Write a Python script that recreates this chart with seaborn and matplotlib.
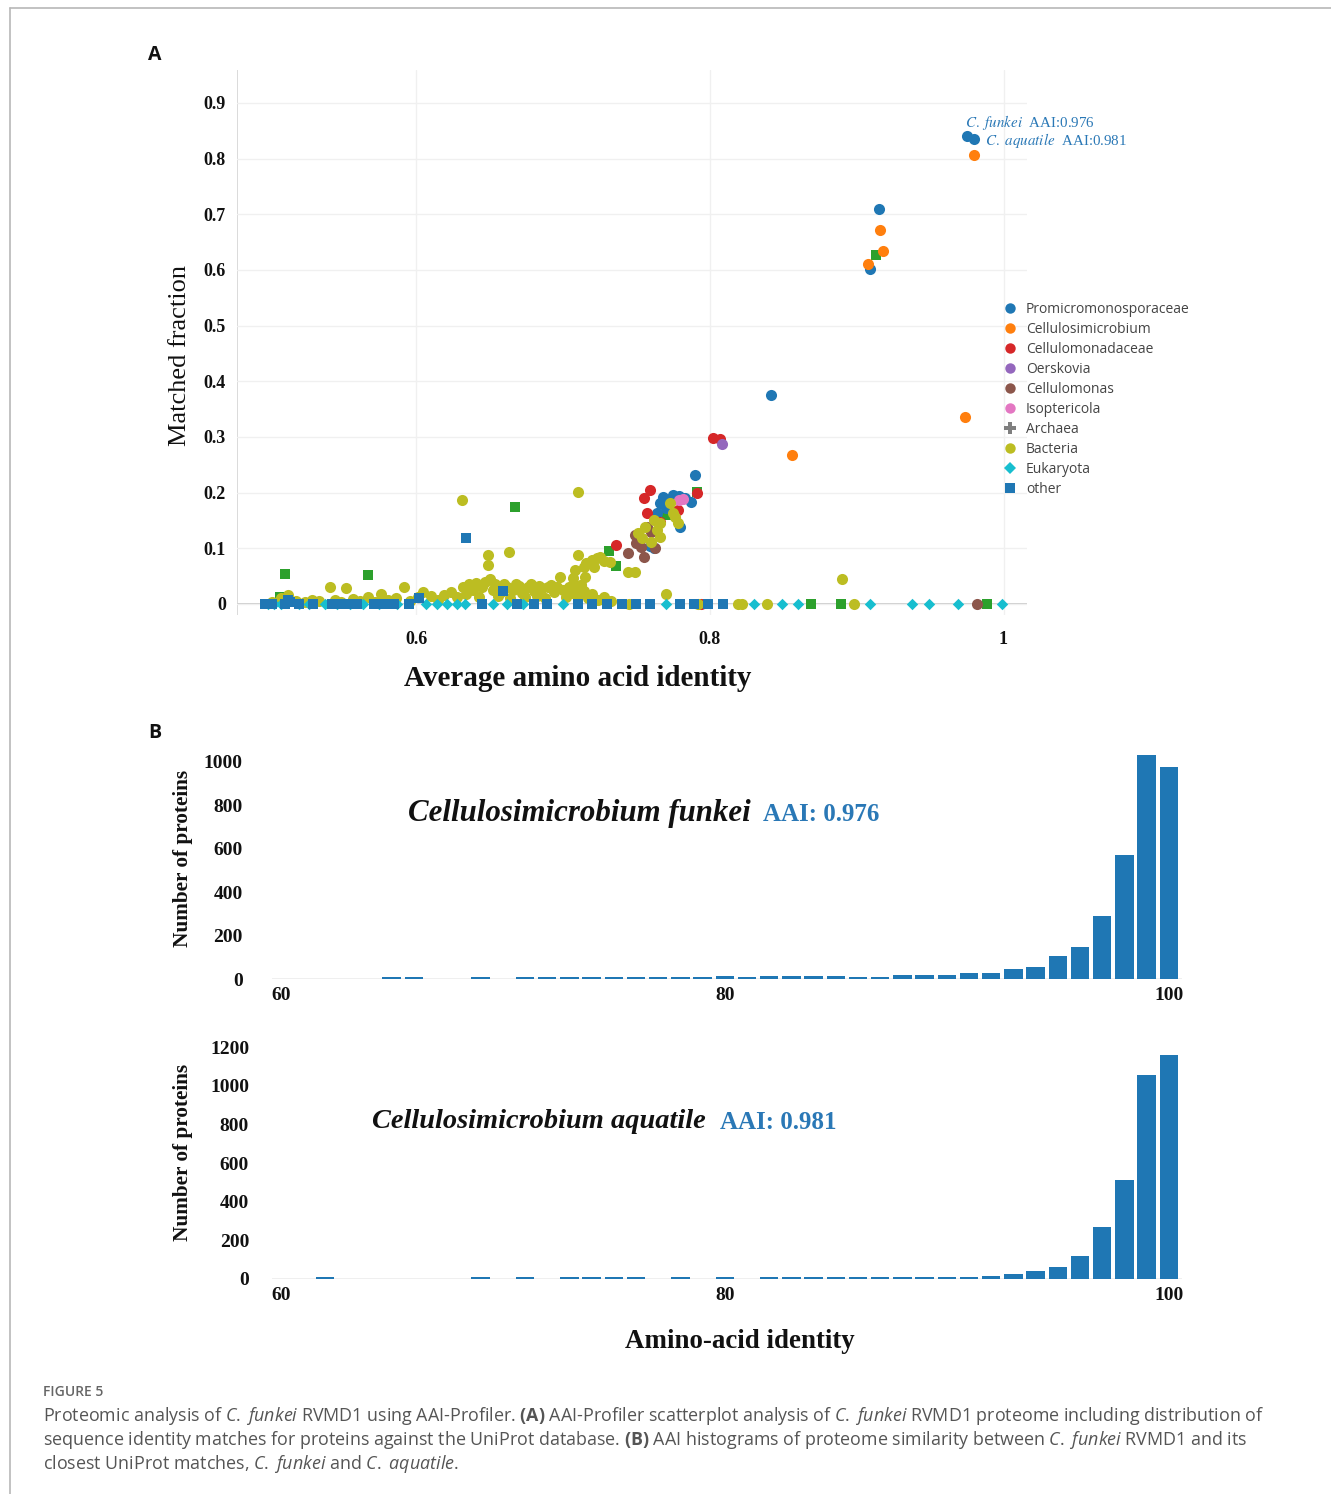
import matplotlib
matplotlib.use("Agg")
import matplotlib.pyplot as plt
from matplotlib.lines import Line2D
import seaborn as sns
import pandas as pd

# ---------------- data: panel A (AAI scatter) ----------------
promi_x = [0.975, 0.980, 0.915, 0.909, 0.842, 0.790, 0.768, 0.766, 0.775, 0.779, 0.787, 0.780, 0.764, 0.762, 0.759, 0.770, 0.783]
promi_y = [0.840, 0.836, 0.710, 0.602, 0.375, 0.232, 0.192, 0.181, 0.196, 0.194, 0.183, 0.138, 0.163, 0.100, 0.104, 0.172, 0.190]

cellsim_x = [0.980, 0.916, 0.918, 0.908, 0.974, 0.856]
cellsim_y = [0.807, 0.671, 0.634, 0.611, 0.336, 0.268]

cellmd_x = [0.802, 0.807, 0.759, 0.755, 0.791, 0.757, 0.778, 0.736, 0.766, 0.794]
cellmd_y = [0.298, 0.296, 0.205, 0.190, 0.199, 0.164, 0.169, 0.106, 0.148, 0.000]

oersk_x = [0.808]
oersk_y = [0.287]

cellmon_x = [0.757, 0.749, 0.753, 0.744, 0.755, 0.763, 0.760, 0.750, 0.982]
cellmon_y = [0.138, 0.124, 0.102, 0.092, 0.084, 0.100, 0.130, 0.110, 0.000]

isopt_x = [0.779, 0.782]
isopt_y = [0.187, 0.188]

green_x = [0.913, 0.791, 0.771, 0.731, 0.736, 0.667, 0.567, 0.511, 0.507, 0.889, 0.869, 0.989]
green_y = [0.627, 0.201, 0.160, 0.095, 0.068, 0.174, 0.052, 0.054, 0.013, 0.000, 0.000, 0.000]

bact_x = [0.502, 0.508, 0.513, 0.518, 0.524, 0.529, 0.534, 0.541, 0.545, 0.549, 0.552, 0.557, 0.562, 0.567,
          0.572, 0.576, 0.581, 0.586, 0.592, 0.596, 0.601, 0.605, 0.610, 0.615, 0.619, 0.624, 0.628,
          0.632, 0.634, 0.636, 0.639, 0.641, 0.643, 0.645, 0.647, 0.650, 0.652, 0.654, 0.656, 0.658, 0.660,
          0.662, 0.664, 0.666, 0.668, 0.670, 0.672, 0.674, 0.676, 0.678, 0.680, 0.682, 0.684, 0.686, 0.688,
          0.690, 0.692, 0.694, 0.696, 0.698, 0.700, 0.702, 0.704, 0.706, 0.708, 0.710, 0.712, 0.714, 0.717,
          0.720, 0.724, 0.728, 0.733,
          0.703, 0.707, 0.708, 0.712, 0.714, 0.715, 0.716, 0.720, 0.721, 0.723, 0.725, 0.728, 0.732, 0.710,
          0.744, 0.749,
          0.751, 0.754, 0.756, 0.762, 0.764, 0.766, 0.766, 0.773, 0.775, 0.776, 0.778, 0.760,
          0.631, 0.649, 0.649, 0.663, 0.710, 0.890, 0.770,
          0.745, 0.792, 0.819, 0.839, 0.898, 0.822]
bact_y = [0.004, 0.010, 0.016, 0.006, 0.003, 0.008, 0.005, 0.030, 0.007, 0.004, 0.029, 0.009, 0.005, 0.012,
          0.004, 0.018, 0.007, 0.010, 0.030, 0.006, 0.012, 0.022, 0.014, 0.008, 0.017, 0.022, 0.012,
          0.030, 0.018, 0.036, 0.026, 0.038, 0.012, 0.030, 0.040, 0.045, 0.026, 0.035, 0.014, 0.022, 0.036,
          0.030, 0.010, 0.026, 0.036, 0.032, 0.020, 0.012, 0.030, 0.036, 0.024, 0.014, 0.032, 0.028, 0.010,
          0.030, 0.034, 0.022, 0.030, 0.049, 0.026, 0.012, 0.030, 0.020, 0.032, 0.014, 0.034, 0.024, 0.010,
          0.018, 0.008, 0.012, 0.005,
          0.025, 0.047, 0.061, 0.034, 0.066, 0.049, 0.074, 0.079, 0.066, 0.083, 0.084, 0.078, 0.075, 0.088,
          0.057, 0.057,
          0.128, 0.119, 0.138, 0.151, 0.133, 0.146, 0.120, 0.181, 0.163, 0.156, 0.146, 0.112,
          0.187, 0.088, 0.070, 0.094, 0.201, 0.045, 0.018,
          0.000, 0.000, 0.000, 0.000, 0.000, 0.000]

euk_x = [0.499, 0.503, 0.508, 0.520, 0.527, 0.538, 0.546, 0.555, 0.564, 0.575, 0.587, 0.607, 0.614, 0.621,
         0.628, 0.633, 0.652, 0.662, 0.673, 0.700, 0.770, 0.830, 0.849, 0.860, 0.909, 0.938, 0.949, 0.969, 0.999]
euk_y = [0.0] * len(euk_x)

other_x = [0.497, 0.502, 0.511, 0.514, 0.520, 0.530, 0.543, 0.548, 0.555, 0.560, 0.571, 0.578, 0.585, 0.595,
           0.602, 0.645, 0.669, 0.680, 0.689, 0.710, 0.720, 0.730, 0.740, 0.750, 0.759, 0.780, 0.789, 0.799,
           0.809, 0.634, 0.659, 0.513]
other_y = [0.000, 0.000, 0.000, 0.003, 0.000, 0.000, 0.000, 0.000, 0.000, 0.000, 0.000, 0.000, 0.000, 0.000,
           0.011, 0.000, 0.000, 0.000, 0.000, 0.000, 0.000, 0.000, 0.000, 0.000, 0.000, 0.000, 0.000, 0.000,
           0.000, 0.119, 0.023, 0.008]

legend_labels = ["Promicromonosporaceae", "Cellulosimicrobium", "Cellulomonadaceae", "Oerskovia",
                 "Cellulomonas", "Isoptericola", "Archaea", "Bacteria", "Eukaryota", "other"]

# ---------------- data: panel B (histograms) ----------------
funkei_bins = [65, 66, 69, 71, 72, 73, 74, 75, 76, 77, 78, 79, 80, 81, 82, 83, 84, 85, 86, 87,
               88, 89, 90, 91, 92, 93, 94, 95, 96, 97, 98, 99, 100]
funkei_counts = [10, 10, 10, 10, 10, 10, 10, 10, 10, 10, 10, 10, 13, 10, 12, 12, 12, 12, 11, 11,
                 18, 18, 18, 26, 29, 46, 57, 106, 149, 290, 570, 1030, 975]

aquatile_bins = [62, 69, 71, 73, 74, 75, 76, 78, 80, 82, 83, 84, 85, 86, 87, 88, 89, 90, 91,
                 92, 93, 94, 95, 96, 97, 98, 99, 100]
aquatile_counts = [10, 10, 10, 10, 10, 10, 10, 10, 10, 10, 10, 10, 10, 10, 10, 10, 10, 10, 10,
                   16, 23, 40, 59, 118, 270, 512, 1056, 1160]

# ---------------- style ----------------
sns.set_theme(style="white")
plt.rcParams["font.family"] = ["Liberation Serif", "DejaVu Serif"]
plt.rcParams["mathtext.fontset"] = "custom"
plt.rcParams["mathtext.rm"] = "Open Sans"
plt.rcParams["mathtext.it"] = "Open Sans:italic"
plt.rcParams["mathtext.bf"] = "Open Sans:bold"

W, H = 1331, 1494
fig = plt.figure(figsize=(W / 100, H / 100), dpi=100)
fig.patch.set_facecolor("white")


def fx(px):
    return px / W


def fy(py):
    return 1 - py / H


# frame lines
fig.add_artist(Line2D([fx(10), 1.0], [fy(8), fy(8)], color="#b8b8b8", lw=1.2))
fig.add_artist(Line2D([fx(10), fx(10)], [fy(8), 0.0], color="#b8b8b8", lw=1.2))

# ---------------- panel A ----------------
axA = fig.add_axes([fx(237), fy(615), fx(1027) - fx(237), fy(70) - fy(615)])
axA.set_xlim(0.478, 1.016)
axA.set_ylim(-0.0198, 0.9592)
for s in axA.spines.values():
    s.set_visible(False)
axA.set_yticks([0, 0.1, 0.2, 0.3, 0.4, 0.5, 0.6, 0.7, 0.8, 0.9])
axA.set_yticklabels(["0", "0.1", "0.2", "0.3", "0.4", "0.5", "0.6", "0.7", "0.8", "0.9"])
axA.set_xticks([0.6, 0.8, 1.0])
axA.set_xticklabels(["0.6", "0.8", "1"])
axA.grid(True, color="#f0f0f0", lw=1)
axA.set_axisbelow(True)
axA.tick_params(axis="both", length=0, labelsize=13, colors="#111111")
axA.tick_params(axis="y", pad=8)
axA.tick_params(axis="x", pad=11.5)
for lab in axA.get_xticklabels() + axA.get_yticklabels():
    lab.set_fontweight("bold")
axA.axhline(0, color="#c4c4c4", lw=1.2, zorder=0.5)
axA.axvline(0.478, color="#d4d4d4", lw=1.2, zorder=0.5)

groups = [
    ("green", green_x, green_y, "#2ca02c", "s", 56),
    ("Promicromonosporaceae", promi_x, promi_y, "#1f77b4", "o", 64),
    ("Cellulosimicrobium", cellsim_x, cellsim_y, "#ff7f0e", "o", 64),
    ("Cellulomonadaceae", cellmd_x, cellmd_y, "#d62728", "o", 64),
    ("Oerskovia", oersk_x, oersk_y, "#9467bd", "o", 64),
    ("Cellulomonas", cellmon_x, cellmon_y, "#8c564b", "o", 64),
    ("Isoptericola", isopt_x, isopt_y, "#e377c2", "o", 64),
    ("Bacteria", bact_x, bact_y, "#bcbd22", "o", 64),
    ("Eukaryota", euk_x, euk_y, "#17becf", "D", 34),
    ("other", other_x, other_y, "#1f77b4", "s", 54),
]
for name, gx, gy, col, mk, sz in groups:
    df = pd.DataFrame({"aai": gx, "frac": gy})
    sns.scatterplot(data=df, x="aai", y="frac", color=col, marker=mk, s=sz,
                    linewidth=0, ax=axA, legend=False, clip_on=False, zorder=3)
axA.set_xlabel("")
axA.set_ylabel("")

# legend
leg_colors = ["#1f77b4", "#ff7f0e", "#d62728", "#9467bd", "#8c564b", "#e377c2",
              "#7f7f7f", "#bcbd22", "#17becf", "#1f77b4"]
leg_markers = ["o", "o", "o", "o", "o", "o", "P", "o", "D", "s"]
leg_sizes = [7.5, 7.5, 7.5, 7.5, 7.5, 7.5, 8.5, 7.5, 6.5, 7.5]
handles = [Line2D([], [], linestyle="None", marker=m, markersize=ms, markerfacecolor=c,
                  markeredgewidth=0, color=c)
           for c, m, ms in zip(leg_colors, leg_markers, leg_sizes)]
leg = fig.legend(handles, legend_labels, loc="upper left", bbox_to_anchor=(fx(1003), fy(302)),
                 frameon=False, borderpad=0, borderaxespad=0, handlelength=1.0,
                 handletextpad=0.65, labelspacing=0.36,
                 prop={"family": "Open Sans", "size": 10})
for t in leg.get_texts():
    t.set_color("#444444")

# annotations on top points
axA.text(0.974, 0.864, r"$\mathit{C.}$ $\mathit{funkei}$  AAI:0.976", color="#2a78b6", fontsize=10.8,
         ha="left", va="center", math_fontfamily="stix")
axA.text(0.9877, 0.832, r"$\mathit{C.}$ $\mathit{aquatile}$  AAI:0.981", color="#2a78b6", fontsize=10.8,
         ha="left", va="center", math_fontfamily="stix")

fig.text(fx(180), fy(355), "Matched fraction", rotation=90, ha="center", va="center",
         fontsize=19, color="#111111")
fig.text(fx(578), fy(678), "Average amino acid identity", ha="center", va="center",
         fontsize=21, fontweight="bold", color="#111111")

fig.text(fx(155), fy(55), "A", ha="center", va="center", fontsize=14, fontweight="bold",
         family="Open Sans", color="#111111")
fig.text(fx(155), fy(733), "B", ha="center", va="center", fontsize=14, fontweight="bold",
         family="Open Sans", color="#111111")


# ---------------- panel B histograms ----------------
def hist_panel(top_px, base_px, ymax, bins, counts, yticks, ypad):
    ax = fig.add_axes([fx(272), fy(base_px), fx(1182) - fx(272), fy(top_px) - fy(base_px)])
    sns.histplot(x=bins, weights=counts, discrete=True, shrink=0.83, color="#1f77b4",
                 alpha=1.0, linewidth=0, ax=ax)
    ax.set_xlim(59.61, 100.59)
    ax.set_ylim(0, ymax)
    for s in ax.spines.values():
        s.set_visible(False)
    ax.set_yticks(yticks)
    ax.set_yticklabels([str(v) for v in yticks])
    ax.set_xticks([60, 80, 100])
    ax.set_xticklabels(["60", "80", "100"])
    ax.tick_params(axis="both", length=0, labelsize=14, colors="#111111")
    ax.tick_params(axis="y", pad=ypad)
    ax.tick_params(axis="x", pad=6)
    for lab in ax.get_xticklabels() + ax.get_yticklabels():
        lab.set_fontweight("bold")
    ax.axhline(0, color="#ececec", lw=1.2, zorder=0)
    ax.set_xlabel("")
    ax.set_ylabel("")
    ax.grid(False)
    return ax


axB1 = hist_panel(745, 979, 1078, funkei_bins, funkei_counts, [0, 200, 400, 600, 800, 1000], 21)
axB2 = hist_panel(1045, 1278.7, 1212, aquatile_bins, aquatile_counts,
                  [0, 200, 400, 600, 800, 1000, 1200], 16.5)

fig.text(fx(183), fy(858), "Number of proteins", rotation=90, ha="center", va="center",
         fontsize=15.3, fontweight="bold", color="#111111")
fig.text(fx(183), fy(1152), "Number of proteins", rotation=90, ha="center", va="center",
         fontsize=15.3, fontweight="bold", color="#111111")
fig.text(fx(740), fy(1342), "Amino-acid identity", ha="center", va="center",
         fontsize=19.4, fontweight="bold", color="#111111")

t1 = fig.text(fx(408), fy(813), "Cellulosimicrobium funkei", ha="left", va="center",
              fontsize=22.2, fontweight="bold", fontstyle="italic", color="#111111")
axB1.annotate("AAI: 0.976", xy=(1, 0.5), xycoords=t1, xytext=(9, -1), textcoords="offset points",
              ha="left", va="center", fontsize=18, fontweight="bold", color="#2a78b6")
t2 = fig.text(fx(372), fy(1121), "Cellulosimicrobium aquatile", ha="left", va="center",
              fontsize=20.4, fontweight="bold", fontstyle="italic", color="#111111")
axB2.annotate("AAI: 0.981", xy=(1, 0.5), xycoords=t2, xytext=(10, -1), textcoords="offset points",
              ha="left", va="center", fontsize=18, fontweight="bold", color="#2a78b6")

# ---------------- caption ----------------
fig.text(fx(43), fy(1392), "FIGURE 5", ha="left", va="center", fontsize=10,
         family="Open Sans", fontweight="semibold", color="#666666")
cap_lines = [
    r"Proteomic analysis of $\mathit{C.}$ $\mathit{funkei}$ RVMD1 using AAI-Profiler. $\mathbf{(A)}$ AAI-Profiler scatterplot analysis of $\mathit{C.}$ $\mathit{funkei}$ RVMD1 proteome including distribution of",
    r"sequence identity matches for proteins against the UniProt database. $\mathbf{(B)}$ AAI histograms of proteome similarity between $\mathit{C.}$ $\mathit{funkei}$ RVMD1 and its",
    r"closest UniProt matches, $\mathit{C.}$ $\mathit{funkei}$ and $\mathit{C.}$ $\mathit{aquatile}$.",
]
for i, line in enumerate(cap_lines):
    fig.text(fx(43), fy(1416 + 24 * i), line, ha="left", va="center", fontsize=12.9,
             family="Open Sans", color="#555555", math_fontfamily="custom")

fig.savefig("out.png", dpi=100, facecolor="white")
